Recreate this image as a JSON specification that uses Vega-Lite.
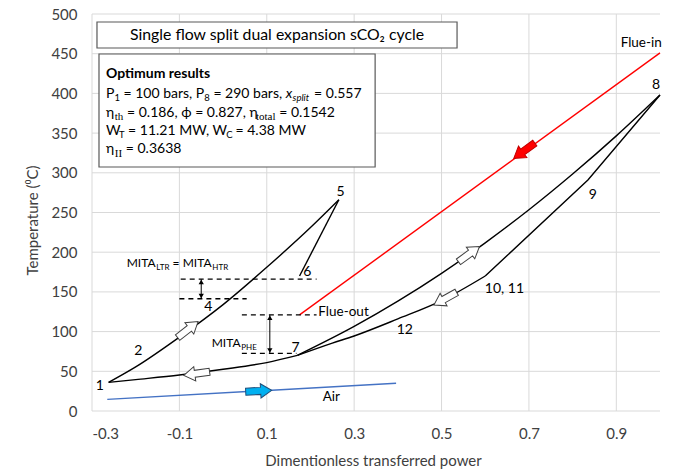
{
  "$schema": "https://vega.github.io/schema/vega-lite/v6.json",
  "width": 568,
  "height": 397,
  "autosize": {"type": "none"},
  "padding": {"left": 92, "top": 14, "right": 22, "bottom": 64},
  "config": {
    "font": "Lato",
    "view": {"stroke": null},
    "axis": {
      "labelFont": "Lato", "titleFont": "Lato",
      "labelFontSize": 15, "titleFontSize": 15, "titleFontWeight": "normal",
      "labelColor": "#404040", "titleColor": "#404040",
      "grid": false, "labelOverlap": false,
      "domain": false, "ticks": false, "tickSize": 0, "labelPadding": 15
    },
    "axisY": {"labelOverlap": false, "labelSeparation": 0}
  },
  "datasets": {
    "gridx": [
      {"v": -0.3}, {"v": -0.1}, {"v": 0.1}, {"v": 0.3}, {"v": 0.5}, {"v": 0.7}, {"v": 0.9}
    ],
    "gridy": [
      {"v": 0}, {"v": 50}, {"v": 100}, {"v": 150}, {"v": 200}, {"v": 250},
      {"v": 300}, {"v": 350}, {"v": 400}, {"v": 450}, {"v": 500}
    ],
    "boxes": [
      {"x": -0.2886, "x2": 0.5355, "y": 457.2, "y2": 489.9},
      {"x": -0.284, "x2": 0.348, "y": 307.3, "y2": 449.6}
    ],
    "curves": [
      {"s": "c15", "x": -0.262, "y": 36},
      {"s": "c15", "x": -0.2, "y": 55.5},
      {"s": "c15", "x": -0.1, "y": 93},
      {"s": "c15", "x": 0, "y": 134},
      {"s": "c15", "x": 0.1, "y": 181},
      {"s": "c15", "x": 0.2, "y": 231},
      {"s": "c15", "x": 0.265, "y": 266},
      {"s": "c56", "x": 0.265, "y": 266},
      {"s": "c56", "x": 0.175, "y": 170},
      {"s": "c17", "x": -0.262, "y": 36},
      {"s": "c17", "x": -0.2, "y": 39.5},
      {"s": "c17", "x": -0.1, "y": 45.3},
      {"s": "c17", "x": 0, "y": 52.5},
      {"s": "c17", "x": 0.1, "y": 61},
      {"s": "c17", "x": 0.17, "y": 70},
      {"s": "c78u", "x": 0.17, "y": 70},
      {"s": "c78u", "x": 0.3, "y": 106.5},
      {"s": "c78u", "x": 0.4, "y": 138.3},
      {"s": "c78u", "x": 0.5, "y": 173.4},
      {"s": "c78u", "x": 0.6, "y": 211.8},
      {"s": "c78u", "x": 0.7, "y": 253.4},
      {"s": "c78u", "x": 0.8, "y": 298.4},
      {"s": "c78u", "x": 0.9, "y": 346.5},
      {"s": "c78u", "x": 1.0, "y": 398},
      {"s": "c78l", "x": 0.17, "y": 70},
      {"s": "c78l", "x": 0.25, "y": 85.5},
      {"s": "c78l", "x": 0.3, "y": 94.5},
      {"s": "c78l", "x": 0.4, "y": 116},
      {"s": "c78l", "x": 0.5, "y": 139},
      {"s": "c78l", "x": 0.6, "y": 170},
      {"s": "c8l", "x": 0.6, "y": 170},
      {"s": "c8l", "x": 0.835, "y": 291},
      {"s": "c8l", "x": 1.0, "y": 398},
      {"s": "flue", "x": 0.175, "y": 121},
      {"s": "flue", "x": 1.0, "y": 451},
      {"s": "air", "x": -0.265, "y": 14.7},
      {"s": "air", "x": 0.396, "y": 34.9}
    ],
    "dashes": [
      {"id": "d1", "x": -0.097, "y": 166},
      {"id": "d1", "x": 0.214, "y": 166},
      {"id": "d2", "x": -0.1, "y": 141.4},
      {"id": "d2", "x": 0.054, "y": 141.4},
      {"id": "d3", "x": 0.043, "y": 121},
      {"id": "d3", "x": 0.214, "y": 121},
      {"id": "d4", "x": 0.043, "y": 72.6},
      {"id": "d4", "x": 0.168, "y": 72.6}
    ],
    "gaps": [
      {"x": -0.05, "y": 141.4, "y2": 166},
      {"x": 0.107, "y": 72.6, "y2": 121}
    ],
    "heads": [
      {"x": -0.05, "y": 162.5, "d": "up"},
      {"x": -0.05, "y": 144.9, "d": "down"},
      {"x": 0.107, "y": 117.5, "d": "up"},
      {"x": 0.107, "y": 76.1, "d": "down"}
    ],
    "arrows": [
      {"x": -0.0807, "y": 102.5, "dir": 322, "kind": "co2"},
      {"x": -0.0604, "y": 47.2, "dir": 172, "kind": "co2"},
      {"x": 0.0815, "y": 25.2, "dir": 357, "kind": "air"},
      {"x": 0.6894, "y": 327.8, "dir": 144, "kind": "gas"},
      {"x": 0.5628, "y": 197.5, "dir": 324, "kind": "co2"},
      {"x": 0.5086, "y": 141.5, "dir": 151, "kind": "co2"}
    ],
    "labels": [
      {"t": "1", "x": -0.282, "y": 31},
      {"t": "2", "x": -0.194, "y": 76},
      {"t": "4", "x": -0.034, "y": 131.4},
      {"t": "5", "x": 0.269, "y": 275.4},
      {"t": "6", "x": 0.193, "y": 174.7},
      {"t": "7", "x": 0.166, "y": 79},
      {"t": "8", "x": 0.991, "y": 411},
      {"t": "9", "x": 0.846, "y": 272},
      {"t": "10, 11", "x": 0.644, "y": 153.3},
      {"t": "12", "x": 0.416, "y": 102}
    ],
    "streams": [
      {"t": "Flue-in", "x": 0.957, "y": 463},
      {"t": "Air", "x": 0.2477, "y": 18}
    ],
    "frags": [
      {"k": "bold", "t": "Optimum results", "x": -0.26796, "y": 419.4},
      {"k": "main", "t": "P", "x": -0.26796, "y": 394.8},
      {"k": "sub", "t": "1", "x": -0.24873, "y": 390.4},
      {"k": "main", "t": "= 100 bars, P", "x": -0.22791, "y": 394.8},
      {"k": "sub", "t": "8", "x": -0.04298, "y": 390.4},
      {"k": "main", "t": "= 290 bars,", "x": -0.02215, "y": 394.8},
      {"k": "ital", "t": "x", "x": 0.14333, "y": 394.8},
      {"k": "subit", "t": "split", "x": 0.15912, "y": 390.4},
      {"k": "main", "t": "= 0.557", "x": 0.20833, "y": 394.8},
      {"k": "main", "t": "η", "x": -0.26796, "y": 370.9},
      {"k": "subserif", "t": "th", "x": -0.24782, "y": 366.5},
      {"k": "main", "t": "= 0.186, ϕ = 0.827, η", "x": -0.2199, "y": 370.9},
      {"k": "subserif", "t": "total", "x": 0.0753, "y": 366.5},
      {"k": "main", "t": "= 0.1542", "x": 0.1284, "y": 370.9},
      {"k": "main", "t": "W", "x": -0.26796, "y": 347.6},
      {"k": "sub", "t": "T", "x": -0.23821, "y": 343.2},
      {"k": "main", "t": "= 11.21 MW, W", "x": -0.21738, "y": 347.6},
      {"k": "sub", "t": "C", "x": 0.0075, "y": 343.2},
      {"k": "main", "t": "= 4.38 MW", "x": 0.0285, "y": 347.6},
      {"k": "main", "t": "η", "x": -0.26796, "y": 324.9},
      {"k": "subserif", "t": "II", "x": -0.24782, "y": 320.5},
      {"k": "main", "t": "= 0.3638", "x": -0.22264, "y": 324.9},
      {"k": "mita", "t": "MITA", "x": -0.22058, "y": 181.4},
      {"k": "msub", "t": "LTR", "x": -0.15284, "y": 177.6},
      {"k": "mita", "t": "= MITA", "x": -0.11553, "y": 181.4},
      {"k": "msub", "t": "HTR", "x": -0.02467, "y": 177.6},
      {"k": "mita", "t": "MITA", "x": -0.02604, "y": 80.6},
      {"k": "msub", "t": "PHE", "x": 0.04171, "y": 76.8},
      {"k": "left", "t": "Flue-out", "x": 0.218, "y": 124.5}
    ],
    "title": [
      {"t": "Single flow split dual expansion sCO₂ cycle", "x": 0.1234, "y": 473.5}
    ]
  },
  "layer": [
    {
      "data": {"name": "gridx"},
      "mark": {"type": "rule", "color": "#d9d9d9", "strokeWidth": 1},
      "encoding": {
        "x": {
          "field": "v", "type": "quantitative",
          "scale": {"domain": [-0.3, 1.0], "nice": false, "zero": false},
          "axis": {
            "values": [-0.3, -0.1, 0.1, 0.3, 0.5, 0.7, 0.9],
            "labelOverlap": false,
            "labelExpr": "datum.value < 0 ? '-' + format(-datum.value, '.1f') : format(datum.value, '.1f')",
            "title": "Dimentionless transferred power",
            "titleX": 281, "titleY": 49, "titleAlign": "center", "titleBaseline": "middle"
          }
        }
      }
    },
    {
      "data": {"name": "gridy"},
      "mark": {"type": "rule", "color": "#d9d9d9", "strokeWidth": 1},
      "encoding": {
        "y": {
          "field": "v", "type": "quantitative",
          "scale": {"domain": [0, 500], "nice": false, "zero": false},
          "axis": {
            "tickCount": 11,
            "labelOverlap": false,
            "labelExpr": "format(datum.value, 'd')",
            "title": "Temperature (⁰C)",
            "titleX": -60, "titleY": 206, "titleAlign": "center", "titleBaseline": "middle", "titleAngle": -90
          }
        }
      }
    },
    {
      "data": {"name": "boxes"},
      "mark": {"type": "rect", "fill": "#ffffff", "stroke": "#595959", "strokeWidth": 1.2},
      "encoding": {
        "x": {"field": "x", "type": "quantitative"},
        "x2": {"field": "x2"},
        "y": {"field": "y", "type": "quantitative"},
        "y2": {"field": "y2"}
      }
    },
    {
      "data": {"name": "curves"},
      "transform": [{"filter": {"field": "s", "oneOf": ["c15", "c17", "c78u", "c78l"]}}],
      "mark": {"type": "line", "interpolate": "monotone", "strokeWidth": 1.4},
      "encoding": {
        "x": {"field": "x", "type": "quantitative"},
        "y": {"field": "y", "type": "quantitative"},
        "detail": {"field": "s", "type": "nominal"},
        "color": {"value": "#000000"}
      }
    },
    {
      "data": {"name": "curves"},
      "transform": [{"filter": {"field": "s", "oneOf": ["c56", "c8l", "flue", "air"]}}],
      "mark": {"type": "line", "strokeWidth": 1.4},
      "encoding": {
        "x": {"field": "x", "type": "quantitative"},
        "y": {"field": "y", "type": "quantitative"},
        "color": {
          "field": "s", "type": "nominal", "legend": null,
          "scale": {"domain": ["c56", "c8l", "flue", "air"], "range": ["#000000", "#000000", "#ff0000", "#4472c4"]}
        }
      }
    },
    {
      "data": {"name": "dashes"},
      "mark": {"type": "line", "strokeDash": [5, 4], "strokeWidth": 1.3, "color": "#000000"},
      "encoding": {
        "x": {"field": "x", "type": "quantitative"},
        "y": {"field": "y", "type": "quantitative"},
        "detail": {"field": "id", "type": "nominal"}
      }
    },
    {
      "data": {"name": "gaps"},
      "mark": {"type": "rule", "strokeWidth": 1, "color": "#000000"},
      "encoding": {
        "x": {"field": "x", "type": "quantitative"},
        "y": {"field": "y", "type": "quantitative"},
        "y2": {"field": "y2"}
      }
    },
    {
      "data": {"name": "heads"},
      "mark": {"type": "point", "filled": true, "size": 28, "color": "#000000", "opacity": 1},
      "encoding": {
        "x": {"field": "x", "type": "quantitative"},
        "y": {"field": "y", "type": "quantitative"},
        "shape": {
          "field": "d", "type": "nominal", "legend": null,
          "scale": {"domain": ["up", "down"], "range": ["triangle-up", "triangle-down"]}
        }
      }
    },
    {
      "data": {"name": "arrows"},
      "mark": {
        "type": "point", "filled": true, "size": 676, "strokeWidth": 1, "opacity": 1,
        "shape": "M-1,-0.27L0.15,-0.27L0.15,-0.55L1,0L0.15,0.55L0.15,0.27L-1,0.27Z"
      },
      "encoding": {
        "x": {"field": "x", "type": "quantitative"},
        "y": {"field": "y", "type": "quantitative"},
        "angle": {"field": "dir", "type": "quantitative", "scale": null},
        "fill": {
          "field": "kind", "type": "nominal", "legend": null,
          "scale": {"domain": ["co2", "gas", "air"], "range": ["#ffffff", "#ff0000", "#00b0f0"]}
        },
        "stroke": {
          "field": "kind", "type": "nominal", "legend": null,
          "scale": {"domain": ["co2", "gas", "air"], "range": ["#404040", "#c00000", "#1f4e79"]}
        }
      }
    },
    {
      "data": {"name": "labels"},
      "mark": {"type": "text", "fontSize": 14, "align": "center", "baseline": "middle", "color": "#000000"},
      "encoding": {
        "x": {"field": "x", "type": "quantitative"},
        "y": {"field": "y", "type": "quantitative"},
        "text": {"field": "t"}
      }
    },
    {
      "data": {"name": "streams"},
      "mark": {"type": "text", "fontSize": 13.5, "align": "center", "baseline": "middle", "color": "#000000"},
      "encoding": {
        "x": {"field": "x", "type": "quantitative"},
        "y": {"field": "y", "type": "quantitative"},
        "text": {"field": "t"}
      }
    },
    {
      "data": {"name": "title"},
      "mark": {"type": "text", "fontSize": 15.8, "align": "center", "baseline": "middle", "color": "#000000"},
      "encoding": {
        "x": {"field": "x", "type": "quantitative"},
        "y": {"field": "y", "type": "quantitative"},
        "text": {"field": "t"}
      }
    },
    {
      "data": {"name": "frags"},
      "transform": [{"filter": "datum.k === 'main'"}],
      "mark": {"type": "text", "fontSize": 14, "align": "left", "baseline": "alphabetic", "color": "#000000"},
      "encoding": {
        "x": {"field": "x", "type": "quantitative"},
        "y": {"field": "y", "type": "quantitative"},
        "text": {"field": "t"}
      }
    },
    {
      "data": {"name": "frags"},
      "transform": [{"filter": "datum.k === 'bold'"}],
      "mark": {"type": "text", "fontSize": 14, "fontWeight": "bold", "align": "left", "baseline": "alphabetic", "color": "#000000"},
      "encoding": {
        "x": {"field": "x", "type": "quantitative"},
        "y": {"field": "y", "type": "quantitative"},
        "text": {"field": "t"}
      }
    },
    {
      "data": {"name": "frags"},
      "transform": [{"filter": "datum.k === 'ital'"}],
      "mark": {"type": "text", "fontSize": 14, "fontStyle": "italic", "align": "left", "baseline": "alphabetic", "color": "#000000"},
      "encoding": {
        "x": {"field": "x", "type": "quantitative"},
        "y": {"field": "y", "type": "quantitative"},
        "text": {"field": "t"}
      }
    },
    {
      "data": {"name": "frags"},
      "transform": [{"filter": "datum.k === 'sub'"}],
      "mark": {"type": "text", "fontSize": 9.5, "align": "left", "baseline": "alphabetic", "color": "#000000"},
      "encoding": {
        "x": {"field": "x", "type": "quantitative"},
        "y": {"field": "y", "type": "quantitative"},
        "text": {"field": "t"}
      }
    },
    {
      "data": {"name": "frags"},
      "transform": [{"filter": "datum.k === 'subit'"}],
      "mark": {"type": "text", "fontSize": 9.5, "fontStyle": "italic", "align": "left", "baseline": "alphabetic", "color": "#000000"},
      "encoding": {
        "x": {"field": "x", "type": "quantitative"},
        "y": {"field": "y", "type": "quantitative"},
        "text": {"field": "t"}
      }
    },
    {
      "data": {"name": "frags"},
      "transform": [{"filter": "datum.k === 'subserif'"}],
      "mark": {"type": "text", "font": "Liberation Serif", "fontSize": 11, "align": "left", "baseline": "alphabetic", "color": "#000000"},
      "encoding": {
        "x": {"field": "x", "type": "quantitative"},
        "y": {"field": "y", "type": "quantitative"},
        "text": {"field": "t"}
      }
    },
    {
      "data": {"name": "frags"},
      "transform": [{"filter": "datum.k === 'mita'"}],
      "mark": {"type": "text", "fontSize": 12, "align": "left", "baseline": "alphabetic", "color": "#000000"},
      "encoding": {
        "x": {"field": "x", "type": "quantitative"},
        "y": {"field": "y", "type": "quantitative"},
        "text": {"field": "t"}
      }
    },
    {
      "data": {"name": "frags"},
      "transform": [{"filter": "datum.k === 'msub'"}],
      "mark": {"type": "text", "fontSize": 8, "align": "left", "baseline": "alphabetic", "color": "#000000"},
      "encoding": {
        "x": {"field": "x", "type": "quantitative"},
        "y": {"field": "y", "type": "quantitative"},
        "text": {"field": "t"}
      }
    },
    {
      "data": {"name": "frags"},
      "transform": [{"filter": "datum.k === 'left'"}],
      "mark": {"type": "text", "fontSize": 13.5, "align": "left", "baseline": "middle", "color": "#000000"},
      "encoding": {
        "x": {"field": "x", "type": "quantitative"},
        "y": {"field": "y", "type": "quantitative"},
        "text": {"field": "t"}
      }
    }
  ]
}
